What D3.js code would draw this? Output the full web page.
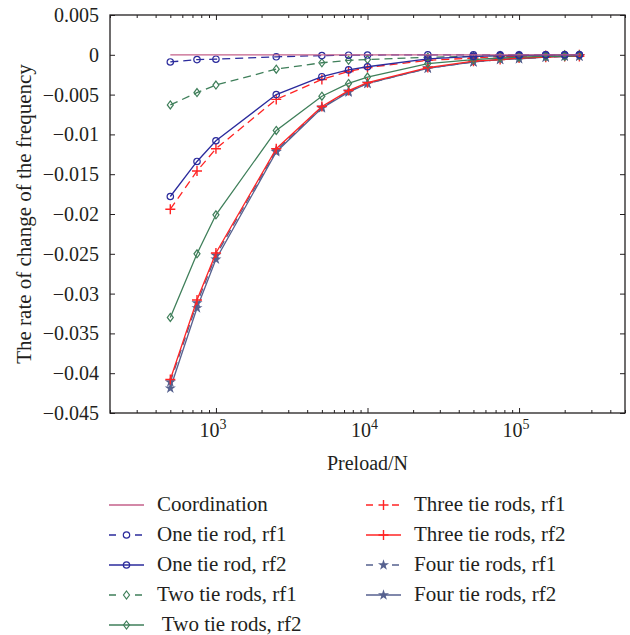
<!DOCTYPE html>
<html>
<head>
<meta charset="utf-8">
<script src="https://cdn.jsdelivr.net/npm/d3@7"></script>
<style>
  body { margin: 0; background: #fff; }
</style>
</head>
<body>
<svg id="chart" width="630" height="635"></svg>
<script>
// preload values (N)
const preload = [500, 750, 1000, 2500, 5000, 7500, 10000, 25000, 50000, 75000, 100000, 150000, 200000, 250000];

// rate of change of the frequency
const coordination = [0, 0, 0, 0, 0, 0, 0, 0, 0, 0, 0, 0, 0, 0];
const oneRf1 = [-0.0009, -0.0006, -0.00055, -0.00025, -0.0001, -0.00005, -0.00003, 0, 0, 0, 0, 0, 0, 0];
const oneRf2 = [-0.0178, -0.0134, -0.0108, -0.0050, -0.00275, -0.0019, -0.0015, -0.0005, -0.0002, -0.0001, -0.0001, 0, 0, 0];
const twoRf1 = [-0.0063, -0.00475, -0.0038, -0.0018, -0.001, -0.0007, -0.0006, -0.0003, -0.0002, -0.0001, -0.0001, -0.0001, 0, 0];
const twoRf2 = [-0.0330, -0.0250, -0.0201, -0.0095, -0.0052, -0.0036, -0.0028, -0.0011, -0.0006, -0.0004, -0.0003, -0.0002, -0.0002, -0.0001];
const threeRf1 = [-0.0194, -0.0146, -0.0118, -0.0056, -0.0031, -0.0021, -0.0016, -0.0007, -0.0004, -0.0002, -0.0002, -0.0001, -0.0001, 0];
const threeRf2 = [-0.0408, -0.0308, -0.0249, -0.0118, -0.0065, -0.0045, -0.0035, -0.0016, -0.0008, -0.0006, -0.0004, -0.0003, -0.0002, -0.0002];
const fourRf1 = [-0.0411, -0.0312, -0.0252, -0.0120, -0.0066, -0.0046, -0.0036, -0.0017, -0.0009, -0.0006, -0.0005, -0.0003, -0.0002, -0.0002];
const fourRf2 = [-0.0419, -0.0318, -0.0257, -0.0122, -0.0067, -0.0047, -0.0036, -0.0017, -0.0009, -0.0006, -0.0005, -0.0003, -0.0002, -0.0002];

const yTicks = [0.005, 0, -0.005, -0.01, -0.015, -0.02, -0.025, -0.03, -0.035, -0.04, -0.045];
const xMajor = [1000, 10000, 100000];
const xExponents = ["3", "4", "5"];

const series = [
  { name: "Coordination", values: coordination, color: "#c4618a", dash: null, marker: null },
  { name: "One tie rod, rf1", values: oneRf1, color: "#2b2b9c", dash: "8,5", marker: "circle" },
  { name: "One tie rod, rf2", values: oneRf2, color: "#2b2b9c", dash: null, marker: "circle" },
  { name: "Two tie rods, rf1", values: twoRf1, color: "#3f7f5a", dash: "8,5", marker: "diamond" },
  { name: " Two tie rods, rf2", values: twoRf2, color: "#3f7f5a", dash: null, marker: "diamond" },
  { name: "Three tie rods, rf1", values: threeRf1, color: "#ff2424", dash: "8,5", marker: "plus" },
  { name: "Three tie rods, rf2", values: threeRf2, color: "#ff2424", dash: null, marker: "plus" },
  { name: "Four tie rods, rf1", values: fourRf1, color: "#56618f", dash: "8,5", marker: "star" },
  { name: "Four tie rods, rf2", values: fourRf2, color: "#56618f", dash: null, marker: "star" }
];

const serif = "'Liberation Serif', 'DejaVu Serif', serif";
const ink = "#231f20";

const svg = d3.select('#chart');
const mLeft = 110, mRight = 625, mTop = 15, mBottom = 413;

const x = d3.scaleLog()
  .domain([200, 500000])
  .range([mLeft, mRight]);
const y = d3.scaleLinear()
  .domain([-0.045, 0.005])
  .range([mBottom, mTop]);

const fmt = d3.format("~g");

// y axes (ticks pointing inward)
svg.append("g")
  .attr("transform", `translate(${mLeft},0)`)
  .call(d3.axisLeft(y).tickValues(yTicks).tickSize(-5).tickPadding(11).tickFormat(fmt))
  .call(g => g.select(".domain").remove())
  .call(g => g.selectAll("text").style("font-size", "20px"));
svg.append("g")
  .attr("transform", `translate(${mRight},0)`)
  .call(d3.axisRight(y).tickValues(yTicks).tickSize(-5).tickFormat(""))
  .call(g => g.select(".domain").remove());

// x axes: major + minor ticks
const minor = x.ticks().filter(t => !xMajor.includes(t));
[[mBottom, d3.axisBottom], [mTop, d3.axisTop]].forEach(([pos, ax]) => {
  svg.append("g")
    .attr("transform", `translate(0,${pos})`)
    .call(ax(x).tickValues(xMajor).tickSize(-5).tickFormat(""))
    .call(g => g.select(".domain").remove());
  svg.append("g")
    .attr("transform", `translate(0,${pos})`)
    .call(ax(x).tickValues(minor).tickSize(-3).tickFormat(""))
    .call(g => g.select(".domain").remove());
});
svg.selectAll(".tick line").attr("stroke", ink);

// x tick labels as 10^n
const xl = svg.append("g").selectAll("text")
  .data(xMajor)
  .join("text")
    .attr("x", d => x(d) - 3)
    .attr("y", mBottom + 24)
    .attr("text-anchor", "middle")
    .style("font-size", "20px");
xl.append("tspan").text("10");
xl.append("tspan").attr("dy", -8).style("font-size", "14px").text((d, i) => xExponents[i]);

// frame
svg.append("rect")
  .attr("x", mLeft).attr("y", mTop)
  .attr("width", mRight - mLeft).attr("height", mBottom - mTop)
  .attr("fill", "none").attr("stroke", ink).attr("stroke-width", 1.3);

// axis titles
svg.append("text")
  .attr("x", (mLeft + mRight) / 2)
  .attr("y", 470)
  .attr("text-anchor", "middle")
  .style("font-size", "20px")
  .text("Preload/N");
svg.append("text")
  .attr("transform", `translate(31,${(mTop + mBottom) / 2}) rotate(-90)`)
  .attr("text-anchor", "middle")
  .style("font-size", "21px")
  .text("The rate of change of the frequency");

function drawMarker(g, type, color) {
  if (type === "circle") {
    g.append("circle").attr("r", 3.2).attr("fill", "none").attr("stroke", color).attr("stroke-width", 1.2);
  } else if (type === "diamond") {
    g.append("path").attr("d", "M0,-4L3,0L0,4L-3,0Z").attr("fill", "none").attr("stroke", color).attr("stroke-width", 1.2);
  } else if (type === "plus") {
    g.append("path").attr("d", "M-5,0H5M0,-5V5").attr("stroke", color).attr("stroke-width", 1.4);
  } else if (type === "star") {
    g.append("path").attr("d", d3.symbol(d3.symbolStar, 38)()).attr("fill", color);
  }
}

const line = d3.line()
  .x((d, i) => x(preload[i]))
  .y(d => y(d));

const plot = svg.append("g");
series.slice().reverse().forEach(s => {
  plot.append("path")
    .attr("d", line(s.values))
    .attr("fill", "none")
    .attr("stroke", s.color)
    .attr("stroke-width", 1.3)
    .attr("stroke-dasharray", s.dash);
  if (s.marker) {
    s.values.forEach((v, i) => {
      const g = plot.append("g").attr("transform", `translate(${x(preload[i])},${y(v)})`);
      drawMarker(g, s.marker, s.color);
    });
  }
});

// legend
const legend = svg.append("g");
series.forEach((s, i) => {
  const col = i < 5 ? 0 : 1;
  const row = i < 5 ? i : i - 5;
  const lx = col === 0 ? 109 : 366;
  const ly = 505 + row * 30;
  const g = legend.append("g");
  g.append("line")
    .attr("x1", lx).attr("x2", lx + 35)
    .attr("y1", ly).attr("y2", ly)
    .attr("stroke", s.color).attr("stroke-width", 1.3)
    .attr("stroke-dasharray", s.dash ? "7,6" : null);
  if (s.marker) {
    const m = g.append("g").attr("transform", `translate(${lx + 17.5},${ly})`);
    m.append("rect").attr("x", -5).attr("y", -5).attr("width", 10).attr("height", 10)
      .attr("fill", s.dash ? "#fff" : "none");
    drawMarker(m, s.marker, s.color);
  }
  g.append("text")
    .attr("x", lx + 48)
    .attr("y", ly + 6)
    .style("font-size", "21px")
    .style("white-space", "pre")
    .text(s.name);
});

// serif type everywhere, as in the reference
svg.selectAll("text")
  .style("font-family", serif)
  .attr("fill", ink);
</script>
</body>
</html>
